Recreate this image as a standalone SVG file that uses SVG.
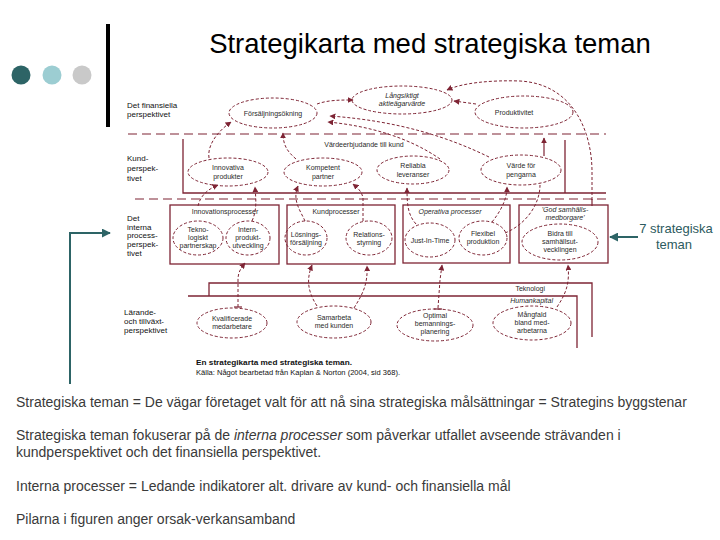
<svg xmlns="http://www.w3.org/2000/svg" width="720" height="540" viewBox="0 0 720 540">
<style>
.t{font-family:"Liberation Sans",Arial,sans-serif}
.d{font-family:"Liberation Sans",Arial,sans-serif;font-size:7px;fill:#2a2a2a;text-anchor:middle}
.pl{font-family:"Liberation Sans",Arial,sans-serif;font-size:8px;fill:#111}
.el{fill:none;stroke:#7e2434;stroke-width:1;stroke-dasharray:3 2}
.bx{fill:none;stroke:#7e2434;stroke-width:1.3}
.pd{fill:none;stroke:#7e2434;stroke-width:1.2;stroke-dasharray:9 5}
.c{fill:none;stroke:#7e2434;stroke-width:1;stroke-dasharray:3 2}
.cs{fill:none;stroke:#7e2434;stroke-width:1.2}
.body{font-family:"Liberation Sans",Arial,sans-serif;font-size:14px;fill:#3a3a3a}
</style>
<defs>
<marker id="ah" viewBox="0 0 10 10" refX="9" refY="5" markerWidth="6" markerHeight="6" markerUnits="userSpaceOnUse" orient="auto">
<path d="M0,0 L10,5 L0,10 z" fill="#7e2434"/>
</marker>
<marker id="ta" viewBox="0 0 10 10" refX="9" refY="5" markerWidth="9" markerHeight="9" markerUnits="userSpaceOnUse" orient="auto">
<path d="M0,0 L10,5 L0,10 z" fill="#2d6466"/>
</marker>
</defs>
<rect width="720" height="540" fill="#fff"/>

<g id="decor">
<circle cx="21" cy="75" r="9.5" fill="#2d6466"/>
<circle cx="52" cy="75" r="9.5" fill="#9ccdd2"/>
<circle cx="82" cy="75" r="9.5" fill="#c9c9c9"/>
<rect x="106" y="24" width="4" height="103" fill="#000"/>
</g>

<g id="title">
<text class="t" x="430" y="53" font-size="27.5" text-anchor="middle" fill="#000">Strategikarta med strategiska teman</text>
</g>

<g id="perspectives">
<text class="pl"><tspan x="127" y="108">Det finansiella</tspan><tspan x="127" y="117">perspektivet</tspan></text>
<text class="pl"><tspan x="127" y="161">Kund-</tspan><tspan x="127" y="171">perspek-</tspan><tspan x="127" y="181">tivet</tspan></text>
<text class="pl"><tspan x="127" y="221">Det</tspan><tspan x="127" y="230">interna</tspan><tspan x="127" y="238">process-</tspan><tspan x="127" y="247">perspek-</tspan><tspan x="127" y="256">tivet</tspan></text>
<text class="pl"><tspan x="124" y="315">Lärande-</tspan><tspan x="124" y="324">och tillväxt-</tspan><tspan x="124" y="333">perspektivet</tspan></text>
<path class="pd" d="M128,134 L606,134"/>
<path class="pd" d="M135,199 L606,199"/>
<path class="bx" d="M183,139 L183,193 L606,193"/>
<path class="bx" d="M565,140 L565,193"/>
<text class="d" x="364" y="147">Värdeerbjudande till kund</text>
<path class="bx" d="M209,296 L209,283 L592,283 L592,337"/>
<path class="bx" d="M188,296 L577,296 L577,348"/>
<text class="d" x="545" y="291" style="text-anchor:end">Teknologi</text>
<text class="d" x="553" y="303" font-style="italic" style="text-anchor:end">Humankapital</text>
</g>

<g id="n-forsaljning"><ellipse class="el" cx="273" cy="113" rx="44" ry="15"/><text class="d" x="273" y="116">Försäljningsökning</text></g>
<g id="n-langsiktigt"><ellipse class="el" cx="402" cy="100" rx="50" ry="14"/><text class="d" font-style="italic"><tspan x="402" y="98">Långsiktigt</tspan><tspan x="402" y="106">aktieägarvärde</tspan></text></g>
<g id="n-produktivitet"><ellipse class="el" cx="524" cy="112" rx="49" ry="16"/><text class="d" x="514" y="115">Produktivitet</text></g>

<g id="n-innovativa"><ellipse class="el" cx="228" cy="172" rx="40" ry="14"/><text class="d"><tspan x="228" y="170">Innovativa</tspan><tspan x="228" y="179">produkter</tspan></text></g>
<g id="n-kompetent"><ellipse class="el" cx="323" cy="172" rx="39" ry="14"/><text class="d"><tspan x="323" y="170">Kompetent</tspan><tspan x="323" y="179">partner</tspan></text></g>
<g id="n-reliabla"><ellipse class="el" cx="413" cy="170" rx="36" ry="14"/><text class="d"><tspan x="413" y="168">Reliabla</tspan><tspan x="413" y="177">leveranser</tspan></text></g>
<g id="n-varde"><ellipse class="el" cx="521" cy="170" rx="40" ry="15"/><text class="d"><tspan x="521" y="168">Värde för</tspan><tspan x="521" y="177">pengarna</tspan></text></g>

<g id="n-innovationsprocesser"><rect class="bx" x="170" y="205" width="109" height="59"/><text class="d" x="225" y="214">Innovationsprocesser</text></g>
<g id="n-teknologiskt"><ellipse class="el" cx="198" cy="238" rx="25" ry="17"/><text class="d" font-size="6.5"><tspan x="198" y="232">Tekno-</tspan><tspan x="198" y="240">logiskt</tspan><tspan x="198" y="248">partnerskap</tspan></text></g>
<g id="n-intern"><ellipse class="el" cx="248" cy="238" rx="22" ry="17"/><text class="d" font-size="6.5"><tspan x="248" y="232">Intern-</tspan><tspan x="248" y="240">produkt-</tspan><tspan x="248" y="248">utveckling</tspan></text></g>
<g id="n-kundprocesser"><rect class="bx" x="287" y="205" width="108" height="59"/><text class="d" x="336" y="214">Kundprocesser</text></g>
<g id="n-losnings"><ellipse class="el" cx="306" cy="238" rx="21" ry="17"/><text class="d"><tspan x="306" y="237">Lösnings-</tspan><tspan x="306" y="245">försäljning</tspan></text></g>
<g id="n-relations"><ellipse class="el" cx="369" cy="238" rx="23" ry="17"/><text class="d"><tspan x="369" y="237">Relations-</tspan><tspan x="369" y="245">styrning</tspan></text></g>
<g id="n-operativa"><rect class="bx" x="403" y="205" width="107" height="58"/><text class="d" x="450" y="214" font-style="italic">Operativa processer</text></g>
<g id="n-jit"><ellipse class="el" cx="430" cy="240" rx="25" ry="17"/><text class="d" x="430" y="243">Just-In-Time</text></g>
<g id="n-flexibel"><ellipse class="el" cx="483" cy="238" rx="24" ry="17"/><text class="d" font-size="7.5"><tspan x="483" y="236">Flexibel</tspan><tspan x="483" y="244">produktion</tspan></text></g>
<g id="n-god"><rect class="bx" x="519" y="205" width="89" height="58"/><text class="d" font-style="italic"><tspan x="565" y="212">'God samhälls-</tspan><tspan x="565" y="220">medborgare'</tspan></text></g>
<g id="n-bidra"><ellipse class="el" cx="560" cy="242" rx="38" ry="18"/><text class="d"><tspan x="560" y="236">Bidra till</tspan><tspan x="560" y="244">samhällsut-</tspan><tspan x="560" y="252">vecklingen</tspan></text></g>

<g id="n-kvalificerade"><ellipse class="el" cx="232" cy="323" rx="35" ry="15"/><text class="d"><tspan x="232" y="321">Kvalificerade</tspan><tspan x="232" y="329">medarbetare</tspan></text></g>
<g id="n-samarbeta"><ellipse class="el" cx="334" cy="322" rx="37" ry="16"/><text class="d"><tspan x="334" y="320">Samarbeta</tspan><tspan x="334" y="328">med kunden</tspan></text></g>
<g id="n-optimal"><ellipse class="el" cx="435" cy="325" rx="38" ry="16"/><text class="d"><tspan x="435" y="318">Optimal</tspan><tspan x="435" y="326">bemannings-</tspan><tspan x="435" y="334">planering</tspan></text></g>
<g id="n-mangfald"><ellipse class="el" cx="532" cy="323" rx="39" ry="17"/><text class="d"><tspan x="532" y="317">Mångfald</tspan><tspan x="532" y="325">bland med-</tspan><tspan x="532" y="333">arbetarna</tspan></text></g>

<g id="connectors">
<path class="c" d="M209,158 C207,145 218,131 231,122" marker-end="url(#ah)"/>
<path class="c" d="M296,159 C288,152 283,146 283,133" marker-end="url(#ah)"/>
<path class="c" d="M317,104 C328,100 340,100 353,100" marker-end="url(#ah)"/>
<path class="c" d="M476,104 L454,101" marker-end="url(#ah)"/>
<path class="c" d="M592,200 L592,172 C592,130 572,84 520,81 C490,80 462,83 447,90" marker-end="url(#ah)"/>
<path class="cs" d="M592,199 L592,206"/>
<path class="c" d="M489,157 C450,138 400,121 330,116" marker-end="url(#ah)"/>
<path class="c" d="M440,159 C410,138 370,126 328,122" marker-end="url(#ah)"/>
<path class="cs" d="M544,156 L544,138" marker-end="url(#ah)"/>
<path class="c" d="M198,206 C200,197 206,190 218,185" marker-end="url(#ah)"/>
<path class="c" d="M252,221 C257,210 256,200 255,187" marker-end="url(#ah)"/>
<path class="c" d="M305,221 C300,210 292,200 298,186" marker-end="url(#ah)"/>
<path class="c" d="M363,221 L363,198 C362,192 358,188 353,184" marker-end="url(#ah)"/>
<path class="c" d="M416,224 C408,215 407,205 407,188" marker-end="url(#ah)"/>
<path class="c" d="M492,222 C500,212 507,200 507,187" marker-end="url(#ah)"/>
<path class="c" d="M505,233 C525,225 540,205 540,185"/>
<path class="c" d="M238,307 L238,280 C238,272 241,268 245,263" marker-end="url(#ah)"/>
<path class="cs" d="M234,307 L242,307"/>
<path class="c" d="M317,306 C308,292 306,280 312,265" marker-end="url(#ah)"/>
<path class="c" d="M354,308 C362,295 368,285 367,266" marker-end="url(#ah)"/>
<path class="c" d="M438,308 L440,280 L442,265" marker-end="url(#ah)"/>
<path class="cs" d="M434,309 L442,309"/>
<path class="c" d="M557,307 C565,295 570,285 568,265" marker-end="url(#ah)"/>
<path d="M70,384 L70,233 L110,233" fill="none" stroke="#2d6466" stroke-width="2" marker-end="url(#ta)"/>
<path d="M638,237 L610,237" fill="none" stroke="#2d6466" stroke-width="2" marker-end="url(#ta)"/>
</g>

<g id="callout">
<text class="t" font-size="13" fill="#2d5b60" text-anchor="middle"><tspan x="676" y="233">7 strategiska</tspan><tspan x="674" y="249">teman</tspan></text>
</g>

<g id="caption">
<text class="t" x="196" y="365" font-size="7" font-weight="bold" fill="#111" textLength="156" lengthAdjust="spacingAndGlyphs">En strategikarta med strategiska teman.</text>
<text class="t" x="196" y="375" font-size="6.5" fill="#111" textLength="204" lengthAdjust="spacingAndGlyphs">Källa: Något bearbetad från Kaplan &amp; Norton (2004, sid 368).</text>
</g>

<g id="bodytext">
<text class="body" x="16" y="407">Strategiska teman = De vägar företaget valt för att nå sina strategiska målsättningar = Strategins byggstenar</text>
<text class="body" x="16" y="440">Strategiska teman fokuserar på de <tspan font-style="italic">interna processer</tspan> som påverkar utfallet avseende strävanden i</text>
<text class="body" x="16" y="457">kundperspektivet och det finansiella perspektivet.</text>
<text class="body" x="16" y="491">Interna processer = Ledande indikatorer alt. drivare av kund- och finansiella mål</text>
<text class="body" x="16" y="524">Pilarna i figuren anger orsak-verkansamband</text>
</g>
</svg>
